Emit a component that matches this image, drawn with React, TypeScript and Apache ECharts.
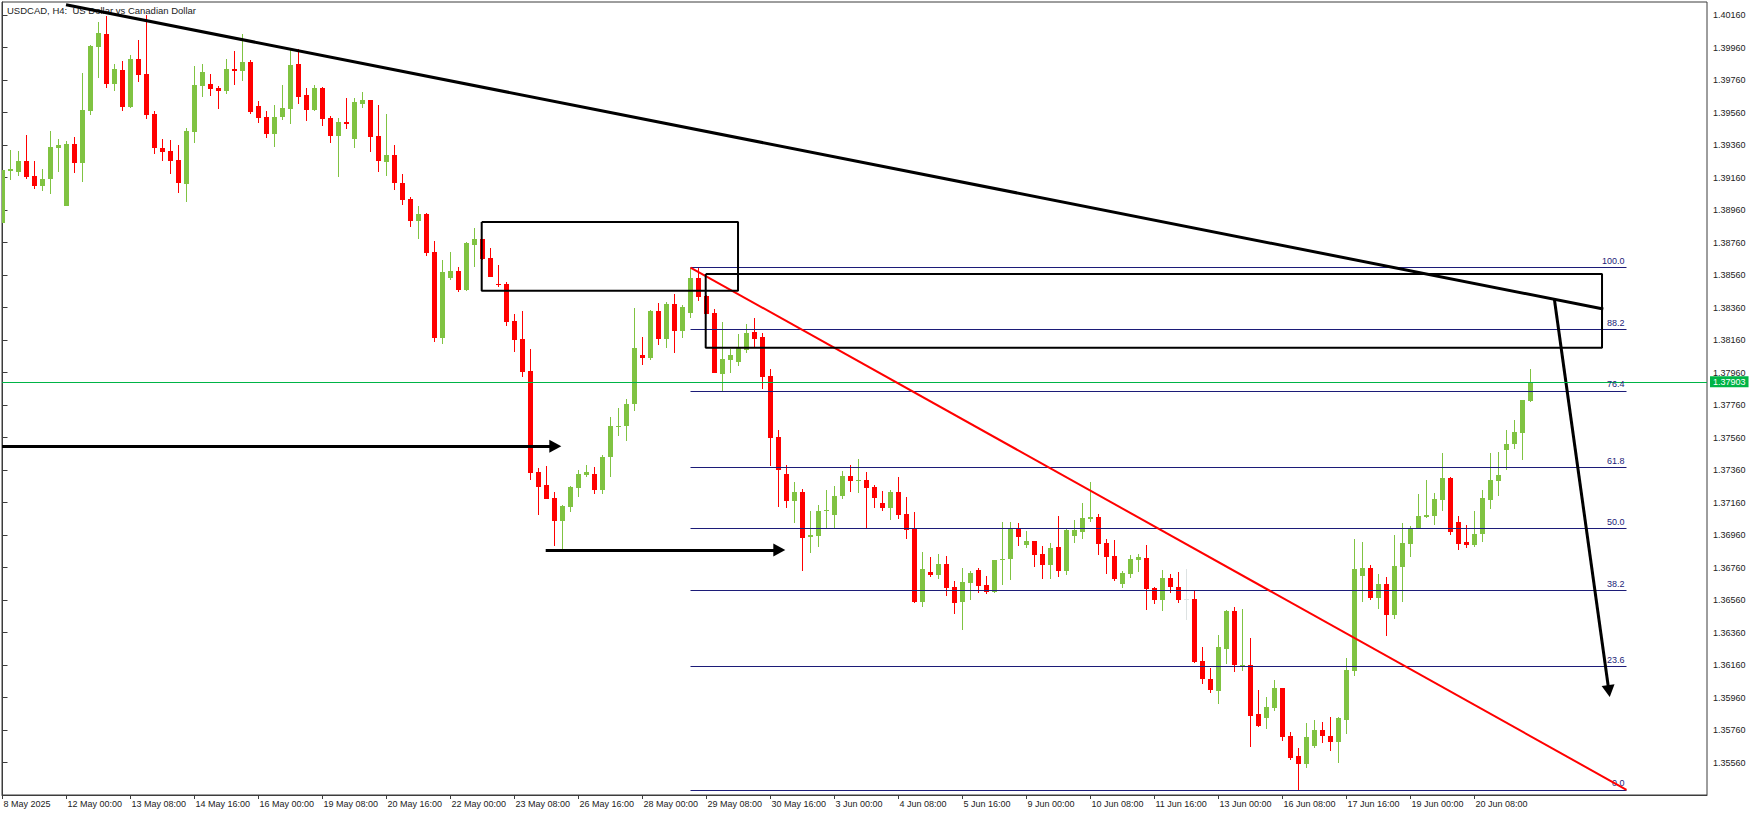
import React, { useEffect, useRef } from 'react';
import * as echarts from 'echarts';

// ---- time axis labels (one every 8 H4 bars) ----
const tickLabels = [
  '8 May 2025', '12 May 00:00', '13 May 08:00', '14 May 16:00', '16 May 00:00', '19 May 08:00',
  '20 May 16:00', '22 May 00:00', '23 May 08:00', '26 May 16:00', '28 May 00:00', '29 May 08:00',
  '30 May 16:00', '3 Jun 00:00', '4 Jun 08:00', '5 Jun 16:00', '9 Jun 00:00', '10 Jun 08:00',
  '11 Jun 16:00', '13 Jun 00:00', '16 Jun 08:00', '17 Jun 16:00', '19 Jun 00:00', '20 Jun 08:00',
];
const barsPerLabel = 8;

// ---- price axis ticks ----
const priceTicks = [
  1.3556, 1.3576, 1.3596, 1.3616, 1.3636, 1.3656, 1.3676, 1.3696, 1.3716, 1.3736, 1.3756, 1.3776,
  1.3796, 1.3816, 1.3836, 1.3856, 1.3876, 1.3896, 1.3916, 1.3936, 1.3956, 1.3976, 1.3996, 1.4016,
];

// ---- USDCAD H4 candles ----
const open = [
  1.38882, 1.39202, 1.39194, 1.39262, 1.39169, 1.39110, 1.39151, 1.39344,
  1.38985, 1.39366, 1.39249, 1.39571, 1.39963, 1.40045, 1.39735, 1.39822,
  1.39594, 1.39889, 1.39797, 1.39551, 1.39342, 1.39323, 1.39268, 1.39120,
  1.39440, 1.39723, 1.39735, 1.39711, 1.39692, 1.39828, 1.39815, 1.39871,
  1.39600, 1.39532, 1.39428, 1.39532, 1.39582, 1.39858, 1.39668, 1.39576,
  1.39711, 1.39526, 1.39416, 1.39502, 1.39397, 1.39612, 1.39637, 1.39416,
  1.39256, 1.39299, 1.39128, 1.39028, 1.38895, 1.38936, 1.38702, 1.38175,
  1.38542, 1.38585, 1.38468, 1.38747, 1.38782, 1.38665, 1.38503, 1.38505,
  1.38278, 1.38167, 1.37970, 1.37348, 1.37268, 1.37188, 1.37049, 1.37135,
  1.37252, 1.37332, 1.37336, 1.37234, 1.37443, 1.37627, 1.37631, 1.37769,
  1.38068, 1.38052, 1.38339, 1.38167, 1.38382, 1.38218, 1.38327, 1.38542,
  1.38431, 1.38327, 1.37953, 1.38040, 1.38027, 1.38101, 1.38210, 1.38179,
  1.37939, 1.37563, 1.37335, 1.37171, 1.37225, 1.36950, 1.36956, 1.37106,
  1.37083, 1.37200, 1.37323, 1.37294, 1.37299, 1.37255, 1.37157, 1.37128,
  1.37225, 1.37089, 1.36999, 1.36550, 1.36732, 1.36714, 1.36782, 1.36642,
  1.36550, 1.36667, 1.36745, 1.36652, 1.36611, 1.36804, 1.36814, 1.36999,
  1.36901, 1.36923, 1.36843, 1.36778, 1.36886, 1.36741, 1.36956, 1.36981,
  1.37061, 1.37071, 1.36911, 1.36831, 1.36661, 1.36722, 1.36806, 1.36819,
  1.36634, 1.36563, 1.36696, 1.36641, 1.36569, 1.36567, 1.36185, 1.36075,
  1.36001, 1.36261, 1.36495, 1.36157, 1.36163, 1.35859, 1.35831, 1.35898,
  1.36019, 1.35724, 1.35597, 1.35548, 1.35662, 1.35763, 1.35726, 1.35687,
  1.35824, 1.36126, 1.36710, 1.36758, 1.36575, 1.36659, 1.36470, 1.36766,
  1.36907, 1.37006, 1.37073, 1.37080, 1.37178, 1.37311, 1.37041, 1.36918,
  1.36901, 1.36969, 1.37178, 1.37295, 1.37486, 1.37519, 1.37590, 1.37785,
];
const high = [
  1.39206, 1.39329, 1.39323, 1.39422, 1.39262, 1.39212, 1.39446, 1.39397,
  1.39385, 1.39409, 1.39803, 1.39977, 1.40117, 1.40156, 1.39861, 1.39877,
  1.39914, 1.40006, 1.40160, 1.39569, 1.39397, 1.39391, 1.39360, 1.39465,
  1.39846, 1.39858, 1.39797, 1.39723, 1.39889, 1.39938, 1.40043, 1.39883,
  1.39631, 1.39569, 1.39606, 1.39729, 1.39945, 1.39951, 1.39711, 1.39729,
  1.39717, 1.39539, 1.39526, 1.39649, 1.39649, 1.39686, 1.39637, 1.39606,
  1.39551, 1.39360, 1.39182, 1.39040, 1.38985, 1.38940, 1.38768, 1.38653,
  1.38702, 1.38610, 1.38764, 1.38850, 1.38782, 1.38727, 1.38622, 1.38518,
  1.38321, 1.38339, 1.38105, 1.37373, 1.37385, 1.37225, 1.37147, 1.37264,
  1.37361, 1.37392, 1.37379, 1.37453, 1.37687, 1.37742, 1.37798, 1.38358,
  1.38179, 1.38347, 1.38388, 1.38394, 1.38444, 1.38376, 1.38606, 1.38604,
  1.38436, 1.38351, 1.38271, 1.38105, 1.38198, 1.38259, 1.38296, 1.38204,
  1.37982, 1.37606, 1.37391, 1.37286, 1.37243, 1.37108, 1.37145, 1.37237,
  1.37262, 1.37354, 1.37391, 1.37428, 1.37348, 1.37268, 1.37231, 1.37237,
  1.37317, 1.37194, 1.37102, 1.36855, 1.36825, 1.36843, 1.36831, 1.36677,
  1.36759, 1.36739, 1.36757, 1.36708, 1.36806, 1.37040, 1.37040, 1.37034,
  1.36985, 1.36923, 1.36892, 1.36911, 1.37077, 1.36999, 1.37052, 1.37159,
  1.37286, 1.37089, 1.36938, 1.36929, 1.36741, 1.36837, 1.36843, 1.36899,
  1.36640, 1.36745, 1.36721, 1.36733, 1.36751, 1.36618, 1.36272, 1.36144,
  1.36347, 1.36501, 1.36520, 1.36507, 1.36329, 1.36009, 1.35966, 1.36068,
  1.36019, 1.35749, 1.35650, 1.35804, 1.35824, 1.35812, 1.35837, 1.35837,
  1.36204, 1.36936, 1.36918, 1.36776, 1.36721, 1.36702, 1.36961, 1.37035,
  1.37016, 1.37213, 1.37299, 1.37219, 1.37465, 1.37318, 1.37078, 1.37022,
  1.37108, 1.37238, 1.37465, 1.37471, 1.37607, 1.37668, 1.37791, 1.37982,
];
const low = [
  1.38882, 1.39145, 1.39171, 1.39151, 1.39089, 1.39077, 1.39061, 1.39194,
  1.38985, 1.39188, 1.39132, 1.39545, 1.39772, 1.39711, 1.39692, 1.39569,
  1.39588, 1.39748, 1.39520, 1.39305, 1.39262, 1.39182, 1.39065, 1.39009,
  1.39372, 1.39655, 1.39662, 1.39582, 1.39674, 1.39729, 1.39754, 1.39551,
  1.39496, 1.39403, 1.39348, 1.39514, 1.39489, 1.39612, 1.39508, 1.39569,
  1.39477, 1.39372, 1.39163, 1.39459, 1.39342, 1.39588, 1.39317, 1.39194,
  1.39169, 1.39083, 1.38991, 1.38858, 1.38784, 1.38677, 1.38150, 1.38136,
  1.38530, 1.38456, 1.38462, 1.38612, 1.38653, 1.38550, 1.38489, 1.38247,
  1.38089, 1.37935, 1.37299, 1.37086, 1.37184, 1.36895, 1.36873, 1.37104,
  1.37191, 1.37314, 1.37215, 1.37215, 1.37320, 1.37572, 1.37541, 1.37726,
  1.38009, 1.38040, 1.38132, 1.38113, 1.38083, 1.38175, 1.38298, 1.38403,
  1.38323, 1.37954, 1.37843, 1.37960, 1.37997, 1.38083, 1.38113, 1.37861,
  1.37387, 1.37134, 1.37128, 1.37036, 1.36741, 1.36851, 1.36888, 1.36999,
  1.36999, 1.37182, 1.37227, 1.37221, 1.36999, 1.37128, 1.37110, 1.37054,
  1.37061, 1.36938, 1.36540, 1.36519, 1.36704, 1.36689, 1.36587, 1.36476,
  1.36378, 1.36562, 1.36605, 1.36599, 1.36605, 1.36654, 1.36685, 1.36894,
  1.36882, 1.36765, 1.36691, 1.36691, 1.36704, 1.36716, 1.36913, 1.36938,
  1.37042, 1.36839, 1.36722, 1.36679, 1.36636, 1.36698, 1.36734, 1.36497,
  1.36538, 1.36495, 1.36606, 1.36544, 1.36440, 1.36175, 1.36046, 1.35989,
  1.35917, 1.36169, 1.36120, 1.36126, 1.35658, 1.35779, 1.35767, 1.35880,
  1.35695, 1.35576, 1.35392, 1.35529, 1.35652, 1.35683, 1.35628, 1.35560,
  1.35738, 1.36091, 1.36550, 1.36563, 1.36507, 1.36341, 1.36446, 1.36550,
  1.36827, 1.37006, 1.37067, 1.37024, 1.37110, 1.36957, 1.36870, 1.36883,
  1.36889, 1.36920, 1.37117, 1.37197, 1.37363, 1.37492, 1.37424, 1.37781,
];
const close = [
  1.39206, 1.39212, 1.39262, 1.39165, 1.39110, 1.39151, 1.39348, 1.39360,
  1.39366, 1.39249, 1.39576, 1.39971, 1.40049, 1.39735, 1.39828, 1.39594,
  1.39889, 1.39791, 1.39545, 1.39342, 1.39317, 1.39262, 1.39126, 1.39446,
  1.39729, 1.39809, 1.39705, 1.39692, 1.39828, 1.39815, 1.39871, 1.39563,
  1.39526, 1.39428, 1.39532, 1.39588, 1.39852, 1.39655, 1.39576, 1.39711,
  1.39520, 1.39416, 1.39502, 1.39489, 1.39625, 1.39637, 1.39409, 1.39262,
  1.39299, 1.39128, 1.39022, 1.38895, 1.38936, 1.38698, 1.38175, 1.38579,
  1.38585, 1.38468, 1.38757, 1.38782, 1.38659, 1.38550, 1.38497, 1.38273,
  1.38163, 1.37964, 1.37344, 1.37258, 1.37184, 1.37049, 1.37141, 1.37258,
  1.37336, 1.37348, 1.37234, 1.37443, 1.37631, 1.37631, 1.37767, 1.38111,
  1.38052, 1.38341, 1.38167, 1.38382, 1.38218, 1.38364, 1.38542, 1.38427,
  1.38323, 1.37958, 1.38044, 1.38068, 1.38111, 1.38204, 1.38167, 1.37935,
  1.37560, 1.37362, 1.37171, 1.37225, 1.36944, 1.36958, 1.37108, 1.37114,
  1.37200, 1.37323, 1.37294, 1.37299, 1.37251, 1.37190, 1.37128, 1.37225,
  1.37085, 1.36993, 1.36546, 1.36753, 1.36714, 1.36782, 1.36636, 1.36544,
  1.36671, 1.36726, 1.36648, 1.36611, 1.36806, 1.36814, 1.36999, 1.36950,
  1.36923, 1.36839, 1.36778, 1.36880, 1.36741, 1.36993, 1.36993, 1.37065,
  1.37071, 1.36907, 1.36827, 1.36691, 1.36726, 1.36812, 1.36825, 1.36630,
  1.36562, 1.36696, 1.36637, 1.36563, 1.36569, 1.36181, 1.36071, 1.36007,
  1.36272, 1.36495, 1.36157, 1.36163, 1.35849, 1.35785, 1.35902, 1.36019,
  1.35720, 1.35589, 1.35548, 1.35714, 1.35763, 1.35726, 1.35687, 1.35831,
  1.36130, 1.36751, 1.36758, 1.36575, 1.36659, 1.36470, 1.36770, 1.36911,
  1.36998, 1.37078, 1.37084, 1.37182, 1.37311, 1.36981, 1.36907, 1.36901,
  1.36967, 1.37188, 1.37299, 1.37330, 1.37521, 1.37594, 1.37791, 1.37903,
];

const lastPrice = 1.37903;

// ---- drawing objects, anchored at [bar index, price] ----
const trendLine = [[7.94, 1.40223], [200.1, 1.38351]];
const supplyZone = [[59.9, 1.38886], [91.94, 1.38463]];
const resistZone = [[87.9, 1.38566], [199.94, 1.38113]];
const arrowLeft = [[-0.0625, 1.37506], [69.1, 1.37506]];
const arrowMid = [[67.9, 1.36868], [97.1, 1.36868]];
const arrowDown = [[193.98, 1.38412], [200.8, 1.36]];
const fibFromBar = 86;
const fibLowBar = 162;
const fibToBar = 203;
const fibRatios = [100, 88.2, 76.4, 61.8, 50, 38.2, 23.6, 0];

const UP = '#80C342';
const DOWN = '#FF0000';
const FLAT = '#DDE2E2';
const FIB = '#1C1C78';
const PRICE = '#00B446';
const AXIS = '#3c3c3c';
const FONT = "'Liberation Sans', Arial, sans-serif";

function buildOption() {
  const candles = open.map((o, i) => [i, o, close[i], low[i], high[i]]);
  const tickBars = tickLabels.map((_, i) => i * barsPerLabel);
  const fibHigh = high[fibFromBar];
  const fibLow = low[fibLowBar];
  const fibPrice = (r: number) => fibLow + (r / 100) * (fibHigh - fibLow);
  const rectPts = (z: number[][]) => [
    [z[0][0], z[0][1]], [z[1][0], z[0][1]], [z[1][0], z[1][1]], [z[0][0], z[1][1]], [z[0][0], z[0][1]],
  ];
  const arrow = (pts: number[][]) => ({
    type: 'line', data: [], z: 6, silent: true, clip: false,
    markLine: {
      silent: true, animation: false, precision: 5,
      symbol: ['none', 'triangle'], symbolSize: [13, 12],
      lineStyle: { color: '#000', width: 3, type: 'solid', opacity: 1 },
      itemStyle: { color: '#000' },
      label: { show: false },
      data: [[{ coord: pts[0] }, { coord: pts[1] }]],
    },
  });
  const plainLine = (pts: number[][], color: string, width: number, z: number) => ({
    type: 'line', data: pts, showSymbol: false, symbol: 'none', silent: true, z,
    lineStyle: { color, width, type: 'solid' },
  });

  return {
    animation: false,
    backgroundColor: '#ffffff',
    title: {
      text: 'USDCAD, H4:  US Dollar vs Canadian Dollar',
      left: 7, top: 5, padding: 0, z: 0,
      textStyle: { fontSize: 9.5, fontWeight: 'normal', color: '#222', fontFamily: FONT },
    },
    grid: {
      left: 2, top: 2, right: 53, bottom: 21,
      show: true, borderColor: AXIS, borderWidth: 1, backgroundColor: '#fff',
    },
    xAxis: {
      type: 'value',
      min: -0.0625, max: 213.0625,
      axisLine: { show: true, lineStyle: { color: AXIS, width: 1 } },
      axisTick: { show: true, customValues: tickBars, length: 4, lineStyle: { color: AXIS } },
      axisLabel: {
        customValues: tickBars, align: 'left', margin: 4, padding: [0, 0, 0, 1],
        fontSize: 9, color: '#222', fontFamily: FONT,
        formatter: (v: number) => tickLabels[tickBars.indexOf(Math.round(v))] ?? '',
      },
      splitLine: { show: false },
    },
    yAxis: {
      type: 'value', position: 'right',
      min: 1.3536, max: 1.4024, scale: true,
      axisLine: { show: true, lineStyle: { color: AXIS, width: 1 } },
      axisTick: { show: true, customValues: priceTicks, length: 5, lineStyle: { color: AXIS } },
      axisLabel: {
        customValues: priceTicks, margin: 6,
        fontSize: 9, color: '#222', fontFamily: FONT,
        formatter: (v: number) => v.toFixed(5),
      },
      splitLine: { show: false },
    },
    series: [
      {
        type: 'custom', name: 'USDCAD', clip: true, z: 2,
        data: candles,
        encode: { x: 0, y: [1, 2, 3, 4] },
        renderItem: (_params: any, api: any) => {
          const k = api.value(0);
          const o = api.value(1);
          const c = api.value(2);
          const l = api.value(3);
          const h = api.value(4);
          const po = api.coord([k, o]);
          const pc = api.coord([k, c]);
          const pl = api.coord([k, l]);
          const ph = api.coord([k, h]);
          const color = c > o ? UP : c < o ? DOWN : FLAT;
          const cx = Math.floor(po[0]) + 0.5;
          const top = Math.round(Math.min(po[1], pc[1]));
          const bot = Math.round(Math.max(po[1], pc[1]));
          return {
            type: 'group',
            children: [
              { type: 'line', shape: { x1: cx, y1: Math.round(ph[1]), x2: cx, y2: Math.round(pl[1]) }, style: { stroke: color, lineWidth: 1 } },
              { type: 'rect', shape: { x: cx - 2.5, y: top, width: 5, height: Math.max(1, bot - top) }, style: { fill: color } },
            ],
          };
        },
      },
      // Fibonacci retracement: diagonal + levels
      {
        ...plainLine([[fibFromBar, fibHigh], [fibToBar, fibLow]], DOWN, 2, 5),
        markLine: {
          silent: true, animation: false, symbol: 'none', precision: 5,
          lineStyle: { color: FIB, width: 1, type: 'solid' },
          label: {
            show: true, position: 'insideEndTop', formatter: '{b}', distance: [2, 2],
            color: FIB, fontSize: 9, fontFamily: FONT,
          },
          data: fibRatios.map((r) => [
            { name: r.toFixed(1), coord: [fibFromBar, fibPrice(r)] },
            { coord: [fibToBar, fibPrice(r)] },
          ]),
        },
      },
      plainLine(trendLine, '#000', 3, 7),
      plainLine(rectPts(supplyZone), '#000', 2, 6),
      plainLine(rectPts(resistZone), '#000', 2, 6),
      arrow(arrowLeft),
      arrow(arrowMid),
      arrow(arrowDown),
      {
        type: 'line', data: [], z: 4, silent: true, clip: false,
        markLine: {
          silent: true, animation: false, symbol: 'none', precision: 5,
          lineStyle: { color: PRICE, width: 1, type: 'solid' },
          label: {
            show: true, position: 'end', formatter: lastPrice.toFixed(5), distance: 3,
            color: '#fff', backgroundColor: PRICE, padding: [1, 3, 0, 3], lineHeight: 10,
            fontSize: 9, fontFamily: FONT,
          },
          data: [{ yAxis: lastPrice }],
        },
      },
    ],
  };
}

export default function App() {
  const ref = useRef<HTMLDivElement>(null);
  useEffect(() => {
    document.body.style.margin = '0';
    const chart = echarts.init(ref.current as HTMLDivElement, undefined, { renderer: 'svg' });
    chart.setOption(buildOption() as any);
    return () => chart.dispose();
  }, []);
  return (
    <div
      ref={ref}
      style={{ position: 'absolute', left: 0, top: 0, width: 1760, height: 816, background: '#fff' }}
    />
  );
}
